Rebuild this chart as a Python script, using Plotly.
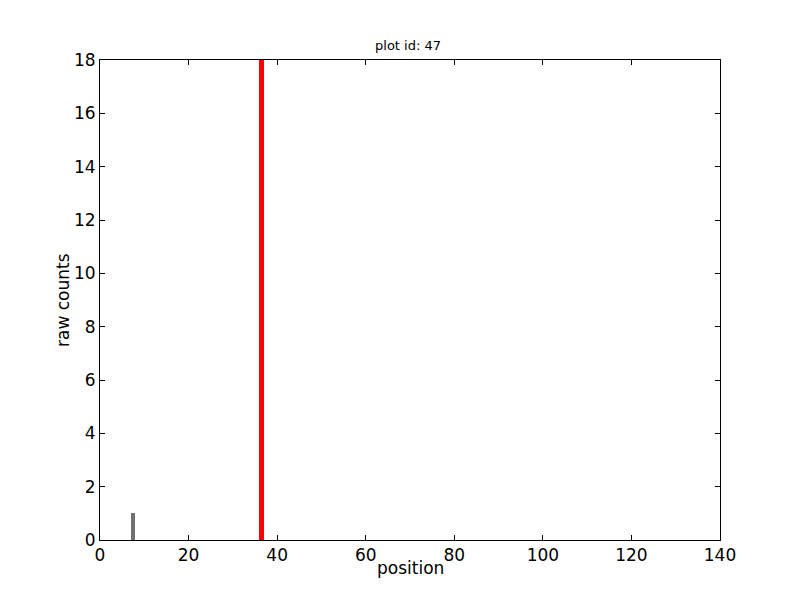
import plotly.graph_objects as go

positions = [7.5, 36.5]
counts = [1, 18]
colors = ["#707070", "#ff0000"]
x_ticks = [0, 20, 40, 60, 80, 100, 120, 140]
y_ticks = [0, 2, 4, 6, 8, 10, 12, 14, 16, 18]

fig = go.Figure()
fig.add_trace(go.Bar(x=positions, y=counts, width=1.0, marker=dict(color=colors, line=dict(width=0)),
                     showlegend=False))

font = "DejaVu Sans"
fig.update_layout(
    width=800, height=600,
    margin=dict(l=92, r=88, t=52, b=68),
    paper_bgcolor="white", plot_bgcolor="white",
    font=dict(family=font, color="black"),
    title=dict(text="plot id: 47", x=0.5, xanchor="center", y=1 - 37/600, yanchor="middle",
               font=dict(size=13, family=font)),
    bargap=0,
    annotations=[
        dict(text="position", xref="paper", yref="paper", x=0.5, y=0, yshift=-28,
             xanchor="center", yanchor="middle", showarrow=False, font=dict(size=17, family=font)),
        dict(text="raw counts", xref="paper", yref="paper", x=0, y=0.5, xshift=-37, textangle=-90,
             xanchor="center", yanchor="middle", showarrow=False, font=dict(size=17, family=font)),
    ],
)
fig.update_xaxes(range=[0, 140], tickvals=x_ticks, ticks="inside", ticklen=5, tickcolor="black",
                 showline=True, linecolor="black", linewidth=1, mirror="ticks", showgrid=False,
                 zeroline=False, tickfont=dict(size=17, family=font))
fig.update_yaxes(range=[0, 18], tickvals=y_ticks, ticks="inside", ticklen=5, tickcolor="black",
                 showline=True, linecolor="black", linewidth=1, mirror="ticks", showgrid=False,
                 zeroline=False, tickfont=dict(size=17, family=font))
fig.write_html("out.html")
